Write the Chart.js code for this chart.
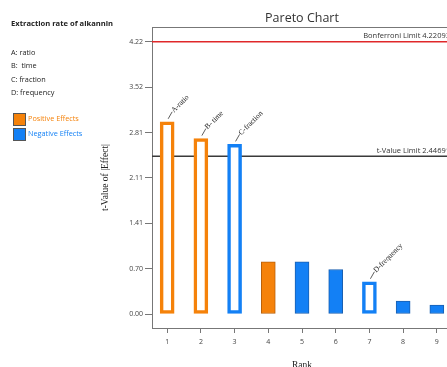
<!DOCTYPE html>
<html>
<head>
<meta charset="utf-8">
<script src="https://cdn.jsdelivr.net/npm/chart.js@4"></script>
<style>
  html, body { margin: 0; padding: 0; background: #fff; overflow: hidden; }
  #wrap { position: relative; width: 447px; height: 367px; overflow: hidden; }
  #pareto-chart { position: absolute; left: 0; top: 0; }
  .side { position: absolute; left: 11px; font-family: "Open Sans", sans-serif; font-size: 7.3px; color: #222; white-space: nowrap; line-height: 1; }
  .side.head { font-weight: bold; font-size: 7.6px; }
  .swatch { position: absolute; left: 13px; width: 11px; height: 11px; border: 1px solid #555; }
</style>
</head>
<body>
<div id="wrap">
  <canvas id="pareto-chart" width="460" height="374"></canvas>
  <div class="side head" style="top:20px">Extraction rate of alkannin</div>
  <div class="side" style="top:49px">A: ratio</div>
  <div class="side" style="top:62px">B:&nbsp; time</div>
  <div class="side" style="top:76px">C: fraction</div>
  <div class="side" style="top:89px">D: frequency</div>
  <div class="swatch" style="top:113px; background:#f5820a"></div>
  <div class="side" style="top:115px; left:28px; color:#f5820a">Positive Effects</div>
  <div class="swatch" style="top:128px; background:#1380f5"></div>
  <div class="side" style="top:130px; left:28px; color:#1380f5">Negative Effects</div>
</div>
<script>
const ranks = [1, 2, 3, 4, 5, 6, 7, 8, 9];
const tValues = [2.98, 2.72, 2.63, 0.81, 0.81, 0.69, 0.50, 0.20, 0.14];
const effectSign = ['pos', 'pos', 'neg', 'pos', 'neg', 'neg', 'neg', 'neg', 'neg'];
const termLabels = ['A-ratio', 'B- time', 'C-fraction', '', '', '', 'D-frequency', '', ''];
const bonferroniLimit = 4.22093;
const tValueLimit = 2.44691;
const yTickValues = [0, 1, 2, 3, 4, 5, 6].map(k => k * bonferroniLimit / 6);

const orange = '#f5820a';
const blue = '#1380f5';

const fillColors = ranks.map((r, i) => {
    if (termLabels[i] !== '') return '#ffffff';
    return effectSign[i] === 'pos' ? orange : blue;
});
const edgeColors = ranks.map((r, i) => {
    if (termLabels[i] !== '') return effectSign[i] === 'pos' ? orange : blue;
    return effectSign[i] === 'pos' ? '#b8600a' : '#1a5fb0';
});
const edgeWidths = ranks.map((r, i) => termLabels[i] !== '' ? 3.5 : 1);

const overlayPlugin = {
    id: 'overlay',
    beforeDatasetsDraw(chart) {
        const { ctx, chartArea, scales } = chart;
        ctx.save();
        // frame line along the top
        ctx.strokeStyle = '#777';
        ctx.lineWidth = 1;
        ctx.beginPath();
        ctx.moveTo(chartArea.left, chartArea.top + 0.5);
        ctx.lineTo(chartArea.right, chartArea.top + 0.5);
        ctx.stroke();

        const limits = [
            { v: bonferroniLimit, color: '#e0282a', text: 'Bonferroni Limit ' + bonferroniLimit },
            { v: tValueLimit, color: '#3a3a3a', text: 't-Value Limit ' + tValueLimit }
        ];
        ctx.font = '7.5px "Open Sans"';
        ctx.textAlign = 'right';
        ctx.textBaseline = 'bottom';
        for (const lim of limits) {
            const y = scales.y.getPixelForValue(lim.v);
            ctx.strokeStyle = lim.color;
            ctx.lineWidth = 1.5;
            ctx.beginPath();
            ctx.moveTo(chartArea.left, y);
            ctx.lineTo(chartArea.right, y);
            ctx.stroke();
            ctx.fillStyle = '#333';
            ctx.fillText(lim.text, chartArea.right - 2, y - 2);
        }
        ctx.restore();
    },
    afterDatasetsDraw(chart) {
        const { ctx } = chart;
        const bars = chart.getDatasetMeta(0).data;
        ctx.save();
        ctx.strokeStyle = '#333';
        ctx.lineWidth = 0.8;
        ctx.fillStyle = '#222';
        ctx.font = '7.5px "Liberation Serif"';
        ctx.textAlign = 'left';
        ctx.textBaseline = 'middle';
        bars.forEach((bar, i) => {
            if (termLabels[i] === '') return;
            const x0 = bar.x + 1, y0 = bar.y - 3;
            const x1 = x0 + 4, y1 = y0 - 7;
            ctx.beginPath();
            ctx.moveTo(x0, y0);
            ctx.lineTo(x1, y1);
            ctx.stroke();
            ctx.save();
            ctx.translate(x1, y1);
            ctx.rotate(-Math.PI / 4);
            ctx.fillText(termLabels[i], 0.5, 0);
            ctx.restore();
        });
        ctx.restore();
    },
    afterDraw(chart) {
        const { ctx, chartArea } = chart;
        ctx.save();
        ctx.fillStyle = '#333';
        ctx.font = '12.5px "Open Sans"';
        ctx.textAlign = 'center';
        ctx.textBaseline = 'middle';
        ctx.fillText('Pareto Chart', (chartArea.left + chartArea.right) / 2, 18);
        ctx.restore();
    }
};

const ctx = document.getElementById('pareto-chart');

const chart = new Chart(ctx, {
    type: 'bar',
    data: {
        datasets: [{
            data: ranks.map((r, i) => ({ x: r, y: tValues[i] })),
            backgroundColor: fillColors,
            borderColor: edgeColors,
            borderWidth: edgeWidths,
            barThickness: 14,
            borderSkipped: false
        }]
    },
    options: {
        responsive: false,
        animation: false,
        layout: {
            padding: { left: 100, top: 27, right: 8, bottom: 0 }
        },
        scales: {
            x: {
                type: 'linear',
                offset: false,
                min: 0.55,
                max: 9.45,
                afterBuildTicks: (scale) => { scale.ticks = ranks.map(v => ({ value: v })); },
                afterFit: (scale) => { scale.height = 46; },
                grid: { drawOnChartArea: false, offset: false, tickLength: 5, color: '#777' },
                border: { display: true, color: '#777' },
                ticks: {
                    padding: 5,
                    color: '#444',
                    font: { family: 'Open Sans', size: 7 },
                    callback: (v) => v
                },
                title: {
                    display: true,
                    text: 'Rank',
                    color: '#222',
                    padding: { top: 0, bottom: 3 },
                    font: { family: 'Liberation Serif', size: 9.5 }
                }
            },
            y: {
                min: -0.217,
                max: 4.45,
                afterBuildTicks: (scale) => { scale.ticks = yTickValues.map(v => ({ value: v })); },
                afterFit: (scale) => { scale.width = 52; },
                grid: { drawOnChartArea: false, tickLength: 7, color: '#777' },
                border: { display: true, color: '#777' },
                ticks: {
                    padding: 2,
                    color: '#444',
                    font: { family: 'Open Sans', size: 7 },
                    callback: (v) => v.toFixed(2)
                },
                title: {
                    display: true,
                    text: 't-Value of |Effect|',
                    color: '#222',
                    padding: 0,
                    font: { family: 'Liberation Serif', size: 9.5 }
                }
            }
        },
        plugins: {
            legend: { display: false },
            tooltip: { enabled: false }
        }
    },
    plugins: [overlayPlugin]
});
</script>
</body>
</html>
